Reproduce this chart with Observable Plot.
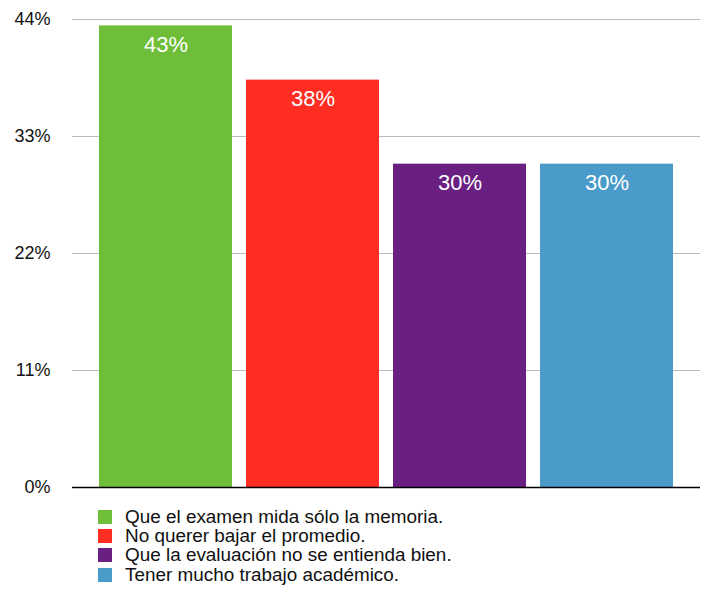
<!DOCTYPE html>
<html>
<head>
<meta charset="utf-8">
<script src="https://cdn.jsdelivr.net/npm/d3@7"></script>
<script src="https://cdn.jsdelivr.net/npm/@observablehq/plot@0.6"></script>
<style>
  html, body { margin: 0; padding: 0; background: #fff; }
  body { width: 706px; height: 594px; overflow: hidden; font-family: "Liberation Sans", Arial, Helvetica, sans-serif; }
  #legend { padding-left: 98px; margin-top: 7px; }
  .row { display: flex; align-items: center; height: 19.3px; font-size: 18.9px; color: #111; }
  .sw { width: 14px; height: 14px; margin-right: 13px; flex: none; }
</style>
</head>
<body>
<div id="chart"></div>
<div id="legend"></div>
<script>
const categories = [
  "Que el examen mida sólo la memoria.",
  "No querer bajar el promedio.",
  "Que la evaluación no se entienda bien.",
  "Tener mucho trabajo académico."
];
const values = [43.4, 38.3, 30.4, 30.4];
const labels = ["43%", "38%", "30%", "30%"];
const colors = ["#6fbe3a", "#ff2d22", "#6a1f82", "#4a9bca"];
const yTicks = [0, 11, 22, 33, 44];

const data = categories.map((c, i) => ({category: c, value: values[i], label: labels[i]}));

const chart = Plot.plot({
  width: 706,
  height: 500,
  marginTop: 19,
  marginBottom: 13,
  marginLeft: 72,
  marginRight: 6,
  style: {fontFamily: '"Liberation Sans", Arial, Helvetica, sans-serif', fontSize: "18px", background: "#fff", overflow: "visible"},
  x: {domain: categories, paddingInner: 0.095, paddingOuter: 0.17, axis: null},
  y: {domain: [0, 44], ticks: yTicks, axis: null},
  color: {domain: categories, range: colors},
  marks: [
    Plot.ruleY(yTicks.filter(t => t > 0), {stroke: "#bbb", strokeWidth: 1}),
    Plot.barY(data, {x: "category", y: "value", fill: "category"}),
    Plot.text(data, {x: "category", y: "value", text: "label", fill: "white", fontSize: 22, dy: 19, lineAnchor: "middle"}),
    Plot.ruleY([0], {stroke: "#000", strokeWidth: 1.5}),
    Plot.axisY({ticks: yTicks, tickFormat: d => d + "%", tickSize: 0, tickPadding: 0, dx: -22, fontSize: 18, fill: "#111", label: null})
  ]
});
document.getElementById("chart").appendChild(chart);

const legend = document.getElementById("legend");
categories.forEach((c, i) => {
  const row = document.createElement("div");
  row.className = "row";
  const sw = document.createElement("div");
  sw.className = "sw";
  sw.style.background = colors[i];
  const t = document.createElement("span");
  t.textContent = c;
  row.appendChild(sw);
  row.appendChild(t);
  legend.appendChild(row);
});
</script>
</body>
</html>
